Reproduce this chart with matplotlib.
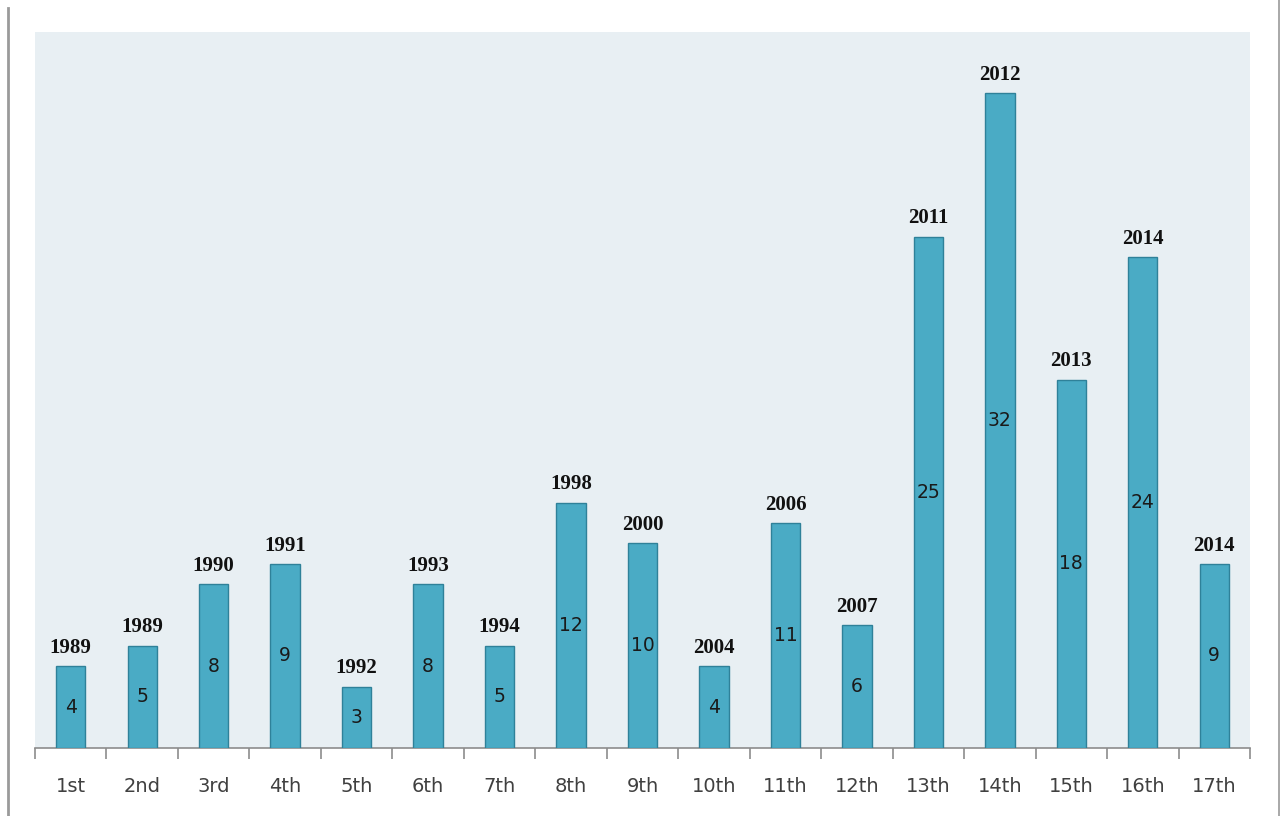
import matplotlib
matplotlib.use("Agg")
import matplotlib.pyplot as plt
from matplotlib.lines import Line2D

categories = ["1st", "2nd", "3rd", "4th", "5th", "6th", "7th", "8th", "9th",
              "10th", "11th", "12th", "13th", "14th", "15th", "16th", "17th"]
values = [4, 5, 8, 9, 3, 8, 5, 12, 10, 4, 11, 6, 25, 32, 18, 24, 9]
years = ["1989", "1989", "1990", "1991", "1992", "1993", "1994", "1998", "2000",
         "2004", "2006", "2007", "2011", "2012", "2013", "2014", "2014"]

W, H = 1286, 816
fig = plt.figure(figsize=(W / 100, H / 100), dpi=100)
fig.patch.set_facecolor("white")

ax = fig.add_axes([35 / W, (H - 748) / H, 1215 / W, 716 / H])
ax.set_facecolor("#e8eff3")

x = list(range(len(categories)))
bars = ax.bar(x, values, width=0.41, color="#4aabc5", edgecolor="#2f8199", linewidth=1.0, zorder=3)

ax.set_xlim(-0.5, len(categories) - 0.5)
ax.set_ylim(0, 35)
ax.set_yticks([])

for sp in ["top", "right", "left"]:
    ax.spines[sp].set_visible(False)
ax.spines["bottom"].set_color("#8c8c8c")
ax.spines["bottom"].set_linewidth(1.2)

# category labels at centers, ticks at boundaries
ax.set_xticks(x)
ax.set_xticklabels(categories, fontsize=14, color="#404040", family="DejaVu Sans")
ax.tick_params(axis="x", which="major", length=0, pad=21)
ax.set_xticks([i - 0.5 for i in range(len(categories) + 1)], minor=True)
ax.tick_params(axis="x", which="minor", length=8, width=1.2, color="#8c8c8c", direction="out")

for b, v, yr in zip(bars, values, years):
    cx = b.get_x() + b.get_width() / 2
    ax.text(cx, v / 2, str(v), ha="center", va="center", fontsize=13.5,
            color="#1a1a1a", family="DejaVu Sans", zorder=4)
    ax.annotate(yr, (cx, v), xytext=(0, 6), textcoords="offset points",
                ha="center", va="bottom", fontsize=15, fontweight="bold",
                family="Liberation Serif", color="#111111", zorder=4)

# outer vertical frame lines
fig.add_artist(Line2D([8 / W, 8 / W], [0, 1 - 8 / H], color="#9a9a9a", linewidth=2.0))
fig.add_artist(Line2D([1279 / W, 1279 / W], [0, 1], color="#9a9a9a", linewidth=1.2))

fig.savefig("out.png", dpi=100, facecolor="white")
